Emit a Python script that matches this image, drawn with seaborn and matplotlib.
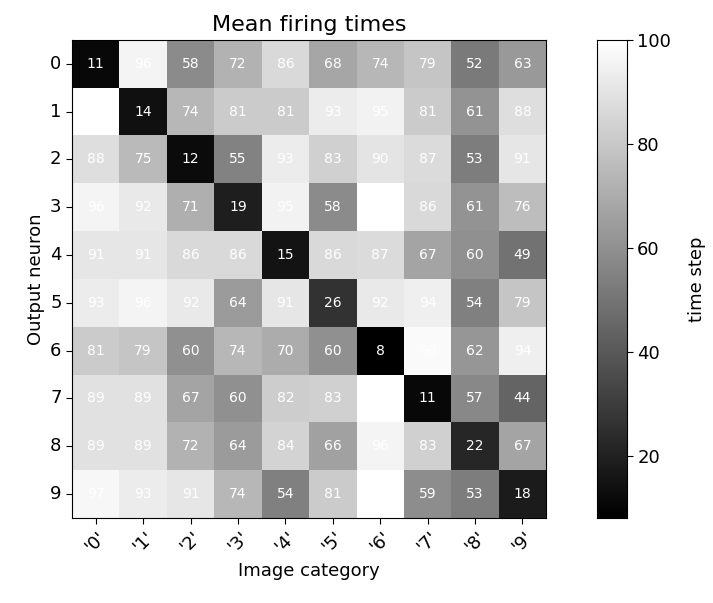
import numpy as np
import seaborn as sns
import matplotlib.pyplot as plt

categories = ["'0'", "'1'", "'2'", "'3'", "'4'", "'5'", "'6'", "'7'", "'8'", "'9'"]
neurons = [str(i) for i in range(10)]

row0 = [11, 96, 58, 72, 86, 68, 74, 79, 52, 63]
row1 = [100, 14, 74, 81, 81, 93, 95, 81, 61, 88]
row2 = [88, 75, 12, 55, 93, 83, 90, 87, 53, 91]
row3 = [96, 92, 71, 19, 95, 58, 100, 86, 61, 76]
row4 = [91, 91, 86, 86, 15, 86, 87, 67, 60, 49]
row5 = [93, 96, 92, 64, 91, 26, 92, 94, 54, 79]
row6 = [81, 79, 60, 74, 70, 60, 8, 98, 62, 94]
row7 = [89, 89, 67, 60, 82, 83, 100, 11, 57, 44]
row8 = [89, 89, 72, 64, 84, 66, 96, 83, 22, 67]
row9 = [97, 93, 91, 74, 54, 81, 100, 59, 53, 18]

times = np.array([row0, row1, row2, row3, row4, row5, row6, row7, row8, row9])

fig = plt.figure(figsize=(7.13, 6.03), dpi=100)
ax = fig.add_axes([0.101, 0.141, 0.665, 0.793])
cax = fig.add_axes([0.837, 0.141, 0.042, 0.793])

sns.heatmap(times, cmap="gray", annot=True, fmt="d",
            annot_kws={"color": "white", "fontsize": 10},
            xticklabels=categories, yticklabels=neurons,
            ax=ax, cbar_ax=cax)

for s in ax.spines.values():
    s.set_visible(True)
    s.set_color("black")
ax.tick_params(length=4, labelsize=13)
plt.setp(ax.get_xticklabels(), rotation=45, ha="center")
plt.setp(ax.get_yticklabels(), rotation=0)
ax.set_title("Mean firing times", fontsize=16)
ax.set_xlabel("Image category", fontsize=13)
ax.set_ylabel("Output neuron", fontsize=13)

cax.tick_params(labelsize=13, length=4)
cax.set_yticks([20, 40, 60, 80, 100])
cax.set_ylabel("time step", fontsize=13, labelpad=12)
for s in cax.spines.values():
    s.set_visible(True)

plt.savefig("out.png", dpi=100)
